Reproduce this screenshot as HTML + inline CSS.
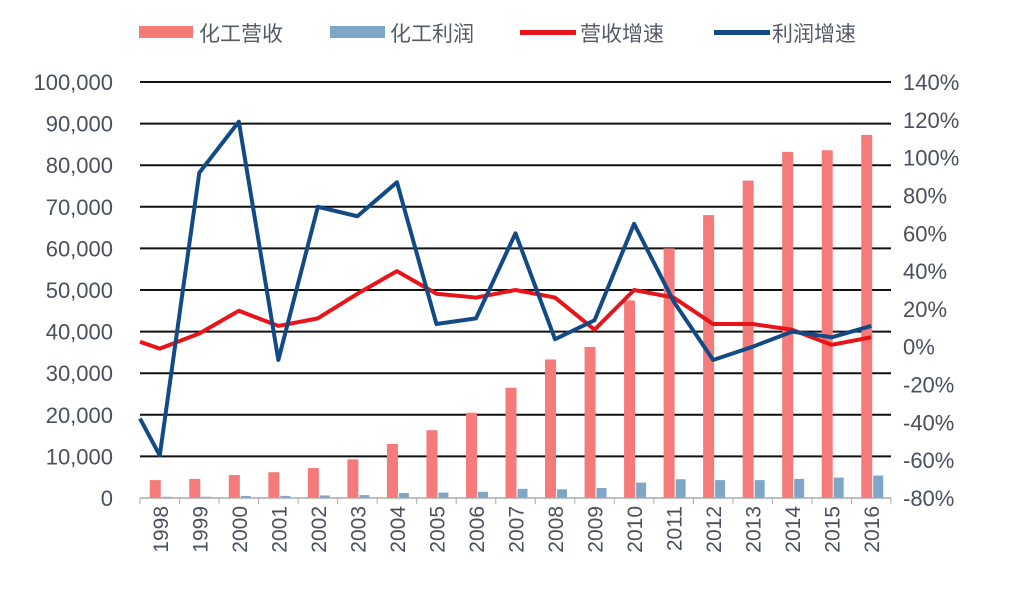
<!DOCTYPE html>
<html><head><meta charset="utf-8"><style>
html,body{margin:0;padding:0;background:#fff;}
svg{display:block;font-family:"Liberation Sans","Noto Sans CJK SC",sans-serif;}
</style></head><body>
<svg id="chart" width="1012" height="590" xmlns="http://www.w3.org/2000/svg">
<g id="legend" font-size="21" fill="#555a66">
 <g><rect x="139" y="26" width="54" height="12" fill="#f57a7a"/><text x="199" y="41">化工营收</text></g>
 <g><rect x="330" y="26" width="55" height="12" fill="#7ea6c6"/><text x="390" y="41">化工利润</text></g>
 <g><rect x="520" y="30" width="56" height="5" fill="#e8141a"/><text x="580" y="41">营收增速</text></g>
 <g><rect x="714" y="30" width="56" height="5" fill="#124a86"/><text x="772" y="41">利润增速</text></g>
</g>
<g id="grid"></g><g id="bars"></g><g id="lines"></g><g id="axes"></g>
</svg>
<script>
const years=["1998","1999","2000","2001","2002","2003","2004","2005","2006","2007","2008","2009","2010","2011","2012","2013","2014","2015","2016"];
const revenue=[4300,4600,5500,6200,7200,9300,13000,16300,20500,26500,33300,36300,47500,60000,68000,76300,83200,83600,87300];
const profit=[300,300,500,500,600,700,1200,1300,1500,2200,2100,2400,3700,4500,4300,4300,4600,4900,5400];
const revGrowth=[-1,7,19,11,15,28,40,28,26,30,26,9,30,26,12,12,9,1,5];
const profGrowth=[-57.5,92,119,-7,74,69,87,12,15,60,4,14,65,24,-7,0,8,5,11];
const revGrowthStart=2.6;
const profGrowthStart=-38;
const leftTicks=[0,10000,20000,30000,40000,50000,60000,70000,80000,90000,100000];
const rightTicks=[-80,-60,-40,-20,0,20,40,60,80,100,120,140];

const NS="http://www.w3.org/2000/svg";
const X0=140,X1=891,YT=82,YB=498;
const cw=(X1-X0)/years.length;
const cx=i=>X0+cw*(i+0.5);
const yL=v=>YB-(v/100000)*(YB-YT);
const yR=v=>YB-((v+80)/220)*(YB-YT);
function mk(tag,attrs,parent){const e=document.createElementNS(NS,tag);for(const k in attrs)e.setAttribute(k,attrs[k]);document.getElementById(parent).appendChild(e);return e;}
const lab="#4a4f5e";
leftTicks.forEach(t=>{
  const y=yL(t);
  if(t>0){const g=mk('line',{x1:X0,x2:X1,y1:y,y2:y,stroke:'#111','stroke-width':2},'grid');
  
  }
  const tx=mk('text',{x:113,y:y+8,'text-anchor':'end','font-size':22,fill:lab},'axes');
  tx.textContent=t.toLocaleString('en-US');
  
  
});
rightTicks.forEach(t=>{
  const tx=mk('text',{x:903,y:yR(t)+8,'font-size':22,fill:lab},'axes');
  tx.textContent=t+'%';
  
  
});
years.forEach((yr,i)=>{
  const c=cx(i);
  const r=mk('rect',{x:c-10,y:yL(revenue[i]),width:11,height:YB-yL(revenue[i]),fill:'#f57a7a'},'bars');
  
  
  const p=mk('rect',{x:c+2,y:yL(profit[i]),width:10,height:YB-yL(profit[i]),fill:'#7ea6c6'},'bars');
  
  
  const tk=mk('line',{x1:X0+cw*i,x2:X0+cw*i,y1:YB,y2:YB+6,stroke:'#aaa','stroke-width':1},'axes');
  
  
  const tx=mk('text',{x:0,y:0,'text-anchor':'end','font-size':21,fill:lab,transform:`translate(${c+8},506) rotate(-90)`},'axes');
  tx.textContent=yr;
  
  
});
const ax=mk('line',{x1:X0,x2:X1,y1:YB,y2:YB,stroke:'#aaa','stroke-width':1.5},'axes');


const lt=mk('line',{x1:X1,x2:X1,y1:YB,y2:YB+6,stroke:'#aaa','stroke-width':1},'axes');


function line(vals,start,color,name){
  let d=`M${X0},${yR(start)}`;
  vals.forEach((v,i)=>{d+=` L${cx(i)},${yR(v)}`;});
  const p=mk('path',{d:d,fill:'none',stroke:color,'stroke-width':4,'stroke-linejoin':'round'},'lines');
  
  
}
line(revGrowth,revGrowthStart,'#e8141a','line-revenue-growth');
line(profGrowth,profGrowthStart,'#124a86','line-profit-growth');
</script>
</body></html>
